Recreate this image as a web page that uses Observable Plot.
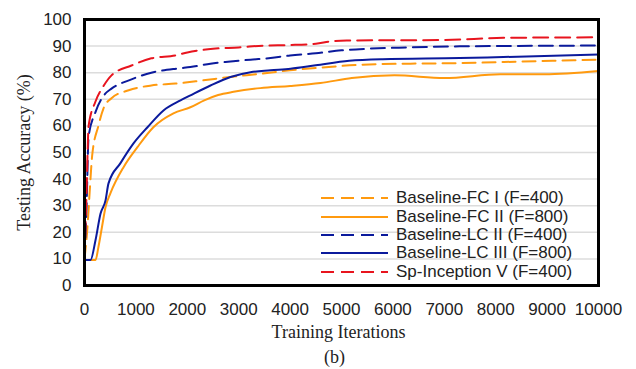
<!DOCTYPE html>
<html>
<head>
<meta charset="utf-8">
<script src="https://cdn.jsdelivr.net/npm/d3@7"></script>
<script src="https://cdn.jsdelivr.net/npm/@observablehq/plot@0.6"></script>
<style>
  html, body { margin: 0; padding: 0; background: #fff; }
  #wrap { position: relative; width: 636px; height: 369px; }
  #wrap svg text { fill: #222; }
  .ser { font-family: "Liberation Serif", "Times New Roman", serif; }
  #legend { position: absolute; left: 321px; top: 189px; font-family: "Liberation Sans", Arial, sans-serif; font-size: 17px; color: #222; }
  #legend .row { display: flex; align-items: center; height: 18.4px; }
  #legend svg { width: 68px; height: 18px; margin-right: 7px; }
</style>
</head>
<body>
<div id="wrap"></div>
<script>
const seriesNames = ["Baseline-FC I (F=400)", "Baseline-FC II (F=800)", "Baseline-LC II (F=400)", "Baseline-LC III (F=800)", "Sp-Inception V (F=400)"];
const seriesColors = ["#FF9A0F", "#FF9A0F", "#0B1A9C", "#0B1A9C", "#E8141E"];
const seriesDash = ["13,7", null, "14,7", null, "15,7"];

const fc1Iter = [0, 50, 100, 150, 270, 370, 525, 860, 1300, 1770, 2300, 2840, 3430, 4000, 4590, 5370, 6340, 7300, 8500, 10000];
const fc1Acc  = [10, 20, 35, 49, 60, 66.6, 70.4, 73.4, 75.2, 75.9, 77.1, 78.4, 79.6, 80.9, 81.9, 83, 83.4, 83.6, 84.2, 84.9];

const fc2Iter = [0, 120, 215, 270, 340, 410, 505, 760, 1030, 1340, 1730, 2060, 2330, 2600, 2900, 3420, 4000, 4590, 5200, 6030, 7000, 8090, 8950, 10000];
const fc2Acc  = [9.6, 9.6, 9.6, 14.4, 22, 29.5, 34.7, 44.5, 52, 59.5, 64.7, 67, 69.6, 71.6, 72.8, 74.2, 75, 76.1, 78, 79, 78, 79.4, 79.4, 80.6];

const lc2Iter = [0, 40, 80, 210, 400, 525, 914, 1300, 1830, 2060, 2450, 2840, 3230, 3620, 4000, 4500, 5000, 5500, 6300, 7300, 10000];
const lc2Acc  = [10, 30, 56, 65, 72, 74, 77.5, 80, 81.6, 82.1, 83.4, 84.2, 84.9, 85.5, 86.5, 87.3, 88.4, 89, 89.5, 89.9, 90.2];

const lc3Iter = [0, 117, 214, 311, 409, 467, 700, 953, 1226, 1537, 1868, 2062, 2451, 2840, 3230, 3619, 4008, 4500, 5150, 5800, 7300, 8150, 10000];
const lc3Acc  = [9.6, 9.6, 17, 27, 32, 38.4, 46, 53.4, 59.5, 65.8, 69.6, 71.5, 75.2, 78.4, 80.2, 80.9, 81.5, 82.8, 84.5, 85.1, 85.5, 85.9, 86.8];

const spIter = [0, 40, 80, 210, 370, 525, 914, 1300, 1770, 2000, 2500, 3000, 3500, 4000, 4500, 4800, 5100, 7000, 8150, 10000];
const spAcc  = [10, 35, 60, 69, 75, 79, 82.7, 85.4, 86.5, 87.6, 89, 89.5, 90.2, 90.4, 90.9, 91.8, 92.1, 92.3, 93.1, 93.3];

const xTicks = [0, 1000, 2000, 3000, 4000, 5000, 6000, 7000, 8000, 9000, 10000];
const yTicks = [0, 10, 20, 30, 40, 50, 60, 70, 80, 90, 100];

const iters = [fc1Iter, fc2Iter, lc2Iter, lc3Iter, spIter];
const accs = [fc1Acc, fc2Acc, lc2Acc, lc3Acc, spAcc];
const tables = iters.map((it, s) => it.map((x, i) => ({x, y: accs[s][i]})));

const lineMarks = tables.map((t, s) => Plot.line(t, {
  x: "x", y: "y", stroke: seriesColors[s], strokeWidth: 2,
  strokeDasharray: seriesDash[s] || undefined, curve: "monotone-x"
}));

const chart = Plot.plot({
  width: 636, height: 369,
  marginLeft: 84, marginRight: 38, marginTop: 19, marginBottom: 84,
  style: { fontFamily: "'Liberation Sans', Arial, sans-serif", fontSize: "17px", background: "white", overflow: "visible" },
  x: { domain: [0, 10000] },
  y: { domain: [0, 100] },
  marks: [
    Plot.gridY(yTicks.slice(1, -1), { stroke: "#dcdcdc", strokeOpacity: 1, strokeWidth: 1.5 }),
    ...lineMarks,
    Plot.axisX(xTicks, { tickSize: 0, tickPadding: 17, fontSize: 17, label: null, tickFormat: d => String(d) }),
    Plot.axisY(yTicks, { tickSize: 0, tickPadding: 13, fontSize: 17, label: null, tickFormat: d => String(d) }),
    Plot.frame({ stroke: "black", strokeWidth: 3 }),
    Plot.text(["Training Iterations"], { frameAnchor: "bottom", lineAnchor: "middle", dy: 47, dx: -3, className: "ser", fontSize: 18 }),
    Plot.text(["(b)"], { frameAnchor: "bottom", lineAnchor: "middle", dy: 72, dx: -7, className: "ser", fontSize: 18 }),
    Plot.text(["Testing Accuracy (%)"], { frameAnchor: "left", textAnchor: "middle", lineAnchor: "middle", dx: -60, rotate: -90, className: "ser", fontSize: 18 })
  ]
});
document.getElementById("wrap").appendChild(chart);

const legend = document.createElement("div");
legend.id = "legend";
seriesNames.forEach((name, s) => {
  const row = document.createElement("div");
  row.className = "row";
  row.innerHTML = `<svg><line x1="0" y1="9" x2="67" y2="9" stroke="${seriesColors[s]}" stroke-width="2" ${seriesDash[s] ? `stroke-dasharray="13,7"` : ""}/></svg><span>${name}</span>`;
  legend.appendChild(row);
});
document.getElementById("wrap").appendChild(legend);
</script>
</body>
</html>
